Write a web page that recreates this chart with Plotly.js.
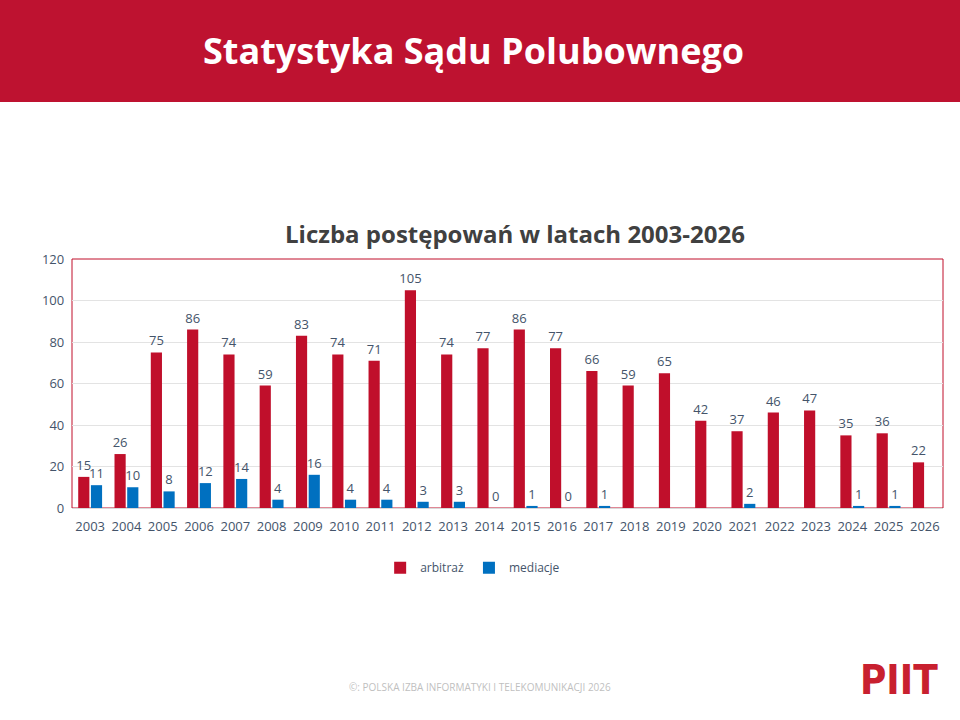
<!DOCTYPE html>
<html>
<head>
<meta charset="utf-8">
<script src="https://cdn.plot.ly/plotly-3.0.1.min.js"></script>
<style>body{margin:0;background:#fff}#chart{width:960px;height:720px}</style>
</head>
<body>
<div id="chart"></div>
<script>
var years = ['2003','2004','2005','2006','2007','2008','2009','2010','2011','2012','2013','2014',
  '2015','2016','2017','2018','2019','2020','2021','2022','2023','2024','2025','2026'];
var arbitraz = [15,26,75,86,74,59,83,74,71,105,74,77,86,77,66,59,65,42,37,46,47,35,36,22];
var mediacje = [11,10,8,12,14,4,16,4,4,3,3,0,1,0,1,null,null,null,2,null,null,1,1,null];

var lblFont = {family: 'Open Sans, sans-serif', size: 13, color: '#44546A'};

var data = [
  {type: 'bar', name: 'arbitraż', x: years, y: arbitraz, marker: {color: '#C00F2B'},
   text: arbitraz.map(String), textposition: 'outside', textfont: lblFont, outsidetextfont: lblFont,
   constraintext: 'none', cliponaxis: false},
  {type: 'bar', name: 'mediacje', x: years, y: mediacje, marker: {color: '#0070C0'},
   text: mediacje.map(function (v) { return v === null ? '' : String(v); }),
   textposition: 'outside', textfont: lblFont, outsidetextfont: lblFont,
   constraintext: 'none', cliponaxis: false}
];

var layout = {
  width: 960, height: 720,
  margin: {l: 72, r: 17, t: 259, b: 212},
  paper_bgcolor: '#fff', plot_bgcolor: '#fff',
  font: {family: 'Open Sans, sans-serif', color: '#44546A'},
  barmode: 'group', bargap: 0.3, bargroupgap: 0.12,
  showlegend: true,
  legend: {orientation: 'h', x: 0.46, xanchor: 'center', y: -0.24, yanchor: 'middle',
    font: {size: 12, color: '#44546A'}, itemwidth: 30, tracegroupgap: 0},
  xaxis: {type: 'category', showgrid: false, showline: true, linecolor: '#D9D9D9', ticks: '',
    tickfont: {size: 13, color: '#44546A'}, tickangle: 0, ticklabelstandoff: 6},
  yaxis: {range: [0, 120], dtick: 20, gridcolor: '#E3E3E3', zeroline: false,
    tickfont: {size: 13, color: '#44546A'}, ticksuffix: '  '},
  shapes: [
    {type: 'rect', xref: 'paper', yref: 'paper', x0: 0, x1: 1, y0: 0, y1: 1,
     line: {color: '#C00F2B', width: 1}, fillcolor: 'rgba(0,0,0,0)', layer: 'below'},
    {type: 'rect', xref: 'paper', yref: 'paper', x0: -72/871, x1: 1 + 17/871,
     y0: 1 + (259-102)/249, y1: 1 + 259/249, line: {width: 0}, fillcolor: '#BE1230', layer: 'below'}
  ],
  annotations: [
    {text: '<b>Statystyka Sądu Polubownego</b>', xref: 'paper', yref: 'paper',
     x: (473-72)/871, y: 1 + (259-50)/249, xanchor: 'center', yanchor: 'middle', showarrow: false,
     font: {size: 36, color: '#fff', family: 'Open Sans, sans-serif'}},
    {text: '<b>Liczba postępowań w latach 2003-2026</b>', xref: 'paper', yref: 'paper',
     x: (515-72)/871, y: 1 + (259-233)/249, xanchor: 'center', yanchor: 'middle', showarrow: false,
     font: {size: 24, color: '#404040', family: 'Open Sans, sans-serif'}},
    {text: '©: POLSKA IZBA INFORMATYKI I TELEKOMUNIKACJI 2026', xref: 'paper', yref: 'paper',
     x: (480-72)/871, y: -(687-508)/249, xanchor: 'center', yanchor: 'middle', showarrow: false,
     font: {size: 10, color: '#BFBFBF', family: 'Open Sans, sans-serif'}},
    {text: '<b>PIIT</b>', xref: 'paper', yref: 'paper',
     x: (940-72)/871, y: -(680-508)/249, xanchor: 'right', yanchor: 'middle', showarrow: false,
     font: {size: 40, color: '#C8202F', family: 'DejaVu Sans Condensed, Liberation Sans Narrow, sans-serif'}}
  ]
};

Plotly.newPlot('chart', data, layout, {displayModeBar: false, staticPlot: true});
</script>
</body>
</html>
